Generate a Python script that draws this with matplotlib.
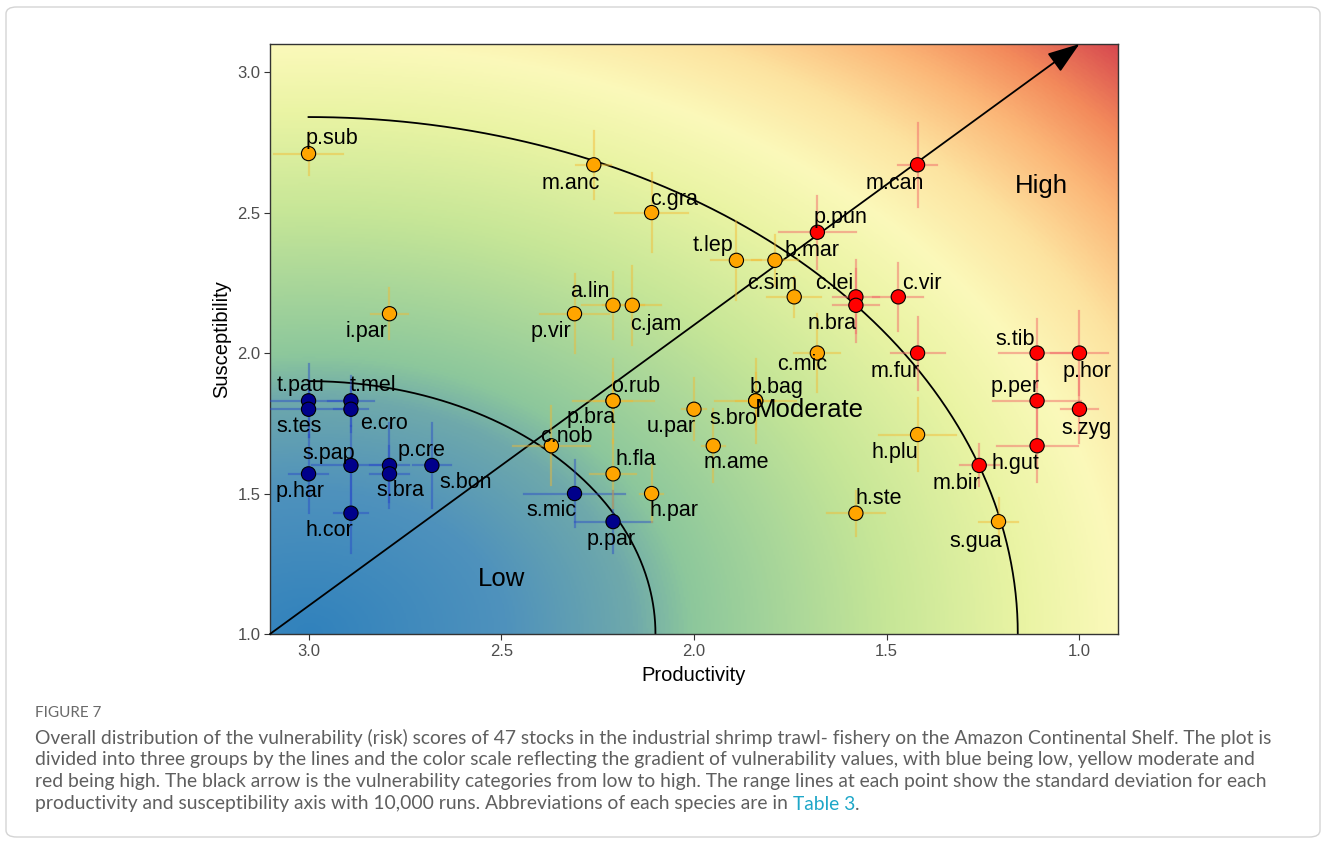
import numpy as np
import matplotlib
matplotlib.use("Agg")
import matplotlib.pyplot as plt
from matplotlib.colors import LinearSegmentedColormap
from matplotlib.patches import FancyBboxPatch

# stock scores (productivity, susceptibility) and their standard deviations
species = ["t.pau", "s.tes", "t.mel", "e.cro", "s.pap", "p.har", "p.cre", "s.bra",
           "s.bon", "h.cor", "s.mic", "p.par",
           "p.sub", "m.anc", "c.gra", "t.lep", "b.mar", "c.sim", "i.par", "p.vir",
           "a.lin", "c.jam", "c.mic", "o.rub", "p.bra", "u.par", "b.bag", "s.bro",
           "c.nob", "m.ame", "h.fla", "h.par", "h.plu", "h.ste", "s.gua",
           "m.can", "p.pun", "c.lei", "n.bra", "c.vir", "m.fur", "s.tib", "p.hor",
           "p.per", "s.zyg", "h.gut", "m.bir"]
productivity = [3.00, 3.00, 2.89, 2.89, 2.89, 3.00, 2.79, 2.79, 2.68, 2.89, 2.31, 2.21,
                3.00, 2.26, 2.11, 1.89, 1.79, 1.74, 2.79, 2.31, 2.21, 2.16, 1.68, 2.21,
                2.21, 2.00, 1.84, 1.84, 2.37, 1.95, 2.21, 2.11, 1.42, 1.58, 1.21,
                1.42, 1.68, 1.58, 1.58, 1.47, 1.42, 1.11, 1.00, 1.11, 1.00, 1.11, 1.26]
susceptibility = [1.83, 1.80, 1.83, 1.80, 1.60, 1.57, 1.60, 1.57, 1.60, 1.43, 1.50, 1.40,
                  2.71, 2.67, 2.50, 2.33, 2.33, 2.20, 2.14, 2.14, 2.17, 2.17, 2.00, 1.83,
                  1.83, 1.80, 1.83, 1.83, 1.67, 1.67, 1.57, 1.50, 1.71, 1.43, 1.40,
                  2.67, 2.43, 2.20, 2.17, 2.20, 2.00, 2.00, 2.00, 1.83, 1.80, 1.67, 1.60]
sd_prod = [0.10, 0.10, 0.06, 0.045, 0.10, 0.05, 0.05, 0.05, 0.05, 0.045, 0.13, 0.10,
           0.09, 0.045, 0.095, 0.065, 0.06, 0.07, 0.047, 0.09, 0.08, 0.075, 0.06, 0.105,
           0.05, 0.03, 0.105, 0.05, 0.10, 0.03, 0.06, 0.03, 0.10, 0.075, 0.05,
           0.05, 0.10, 0.06, 0.06, 0.065, 0.07, 0.10, 0.075, 0.115, 0.047, 0.105, 0.05]
sd_susc = [0.13, 0.10, 0.09, 0.08, 0.14, 0.14, 0.15, 0.10, 0.15, 0.14, 0.12, 0.11,
           0.075, 0.12, 0.14, 0.14, 0.09, 0.07, 0.09, 0.14, 0.12, 0.14, 0.14, 0.15,
           0.10, 0.11, 0.15, 0.10, 0.14, 0.13, 0.12, 0.10, 0.13, 0.08, 0.085,
           0.15, 0.13, 0.13, 0.13, 0.12, 0.13, 0.12, 0.15, 0.13, 0.12, 0.13, 0.075]
category = ["Low"] * 12 + ["Moderate"] * 23 + ["High"] * 12

ticks_x = [3.0, 2.5, 2.0, 1.5, 1.0]
ticks_y = [1.0, 1.5, 2.0, 2.5, 3.0]
r_low = 0.9    # boundary low / moderate (distance from (3, 1))
r_high = 1.84  # boundary moderate / high

# label offsets in pixels (dx right, dy down) like ggrepel placed them
label_offset = {
    "t.pau": (-8, -15), "s.tes": (-9, 17), "t.mel": (22, -15), "e.cro": (33, 14),
    "s.pap": (-22, -12), "p.har": (-8, 18), "p.cre": (32, -15), "s.bra": (11, 17),
    "s.bon": (34, 17), "h.cor": (-22, 17), "s.mic": (-23, 17), "p.par": (-2, 18),
    "p.sub": (23, -15), "m.anc": (-23, 19), "c.gra": (22, -13), "t.lep": (-23, -15),
    "b.mar": (37, -10), "c.sim": (-22, -13), "i.par": (-23, 18), "p.vir": (-24, 18),
    "a.lin": (-23, -14), "c.jam": (23, 19), "c.mic": (-15, 11), "o.rub": (23, -14),
    "p.bra": (-22, 17), "u.par": (-23, 17), "b.bag": (21, -13), "s.bro": (-22, 18),
    "c.nob": (15, -9), "m.ame": (23, 17), "h.fla": (23, -14), "h.par": (22, 17),
    "h.plu": (-23, 18), "h.ste": (23, -15), "s.gua": (-23, 20),
    "m.can": (-23, 19), "p.pun": (23, -15), "c.lei": (-22, -13), "n.bra": (-24, 18),
    "c.vir": (24, -13), "m.fur": (-22, 18), "s.tib": (-22, -14), "p.hor": (8, 18),
    "p.per": (-22, -14), "s.zyg": (7, 19), "h.gut": (-22, 18), "m.bir": (-23, 18),
}

point_col = {"Low": "#00008B", "Moderate": "#FFA500", "High": "#FF0000"}
bar_col = {"Low": ("#2848c8", 0.45), "Moderate": ("#F5B82E", 0.45), "High": ("#F26B6B", 0.5)}

sans = ["Liberation Sans", "DejaVu Sans"]
plt.rcParams["font.family"] = sans

fig = plt.figure(figsize=(13.28, 8.43), dpi=100)
W, H = 1328, 843

# outer frame of the figure panel
frame = FancyBboxPatch((6 / W, 6 / H), 1314 / W, 830 / H,
                       boxstyle="round,pad=0,rounding_size=0.008",
                       transform=fig.transFigure, fill=False,
                       edgecolor="#d4d4d4", lw=1.0)
fig.patches.append(frame)

ax = fig.add_axes([270 / W, 1 - 634 / H, 848 / W, 590 / H])
xlim = (3.1, 0.9)
ylim = (1.0, 3.1)

# background: vulnerability = distance from (3, 1)
gx = np.linspace(xlim[0], xlim[1], 500)
gy = np.linspace(ylim[0], ylim[1], 400)
PX, SY = np.meshgrid(gx, gy)
V = np.sqrt((PX - 3.0) ** 2 + (SY - 1.0) ** 2)
nodes = [(0.0, "#3182bd"), (0.17, "#4f92bc"), (0.28, "#6fa9ab"), (0.33, "#8cc79c"),
         (0.50, "#c6e697"), (0.62, "#eaf4a4"), (0.70, "#fbf9ba"), (0.78, "#fde3a0"),
         (0.86, "#fbb677"), (0.92, "#f38a5b"), (1.0, "#d3404e")]
cmap = LinearSegmentedColormap.from_list("vuln", nodes)
ax.imshow(V, extent=(xlim[0], xlim[1], ylim[0], ylim[1]), origin="lower",
          aspect="auto", cmap=cmap, vmin=0, vmax=3.0, interpolation="bilinear", zorder=0)

# group boundaries
th = np.linspace(0, np.pi / 2, 400)
for r in (r_low, r_high):
    ax.plot(3 - r * np.cos(th), 1 + r * np.sin(th), color="black", lw=1.3, zorder=2)

# direction of increasing vulnerability
ax.annotate("", xy=(1.0, 3.1), xytext=(3.1, 1.0), annotation_clip=False,
            arrowprops=dict(arrowstyle="-|>,head_length=1.0,head_width=0.35",
                            color="black", lw=1.3, mutation_scale=20, shrinkA=0, shrinkB=0),
            zorder=3)

# standard deviation bars
for p, s, dp, ds, c in zip(productivity, susceptibility, sd_prod, sd_susc, category):
    col, a = bar_col[c]
    ax.plot([p - dp, p + dp], [s, s], color=col, alpha=a, lw=1.6, zorder=3)
    ax.plot([p, p], [s - ds, s + ds], color=col, alpha=a, lw=1.6, zorder=3)

ax.scatter(productivity, susceptibility, s=105,
           c=[point_col[c] for c in category], edgecolors="black", linewidths=0.8, zorder=4)

for name, p, s in zip(species, productivity, susceptibility):
    dx, dy = label_offset[name]
    ax.annotate(name, (p, s), xytext=(dx, -dy), textcoords="offset pixels",
                ha="center", va="center", fontsize=15.5, color="black", zorder=5)

ax.text(2.5, 1.195, "Low", fontsize=18.5, ha="center", va="center", zorder=5)
ax.text(1.70, 1.796, "Moderate", fontsize=18.5, ha="center", va="center", zorder=5)
ax.text(1.10, 2.595, "High", fontsize=18.5, ha="center", va="center", zorder=5)

ax.set_xlim(*xlim)
ax.set_ylim(*ylim)
ax.set_xticks(ticks_x)
ax.set_xticklabels([f"{t:.1f}" for t in ticks_x])
ax.set_yticks(ticks_y)
ax.set_yticklabels([f"{t:.1f}" for t in ticks_y])
ax.tick_params(length=4, width=0.8, color="#333333", labelsize=12, labelcolor="#4d4d4d", pad=3)
for sp in ax.spines.values():
    sp.set_color("#333333")
    sp.set_linewidth(1.0)
ax.set_xlabel("Productivity", fontsize=14.5, labelpad=5)
ax.set_ylabel("Susceptibility", fontsize=14.5, labelpad=4)

# caption
cap_font = ["Lato", "DejaVu Sans"]
cap_col = "#5f5f5f"
cap_size = 13.9
fig.text(35 / W, 1 - 713 / H, "FIGURE 7", fontsize=11, color="#6a6a6a",
         family=cap_font, va="center", ha="left")
lines = [
    "Overall distribution of the vulnerability (risk) scores of 47 stocks in the industrial shrimp trawl- fishery on the Amazon Continental Shelf. The plot is",
    "divided into three groups by the lines and the color scale reflecting the gradient of vulnerability values, with blue being low, yellow moderate and",
    "red being high. The black arrow is the vulnerability categories from low to high. The range lines at each point show the standard deviation for each",
    "productivity and susceptibility axis with 10,000 runs. Abbreviations of each species are in ",
]
ys = [738, 760, 782, 804]
last = None
for txt, yy in zip(lines, ys):
    last = fig.text(35 / W, 1 - yy / H, txt, fontsize=cap_size, color=cap_col,
                    family=cap_font, va="center", ha="left")

fig.canvas.draw()
bb = last.get_window_extent()
t3 = fig.text(bb.x1 / W, 1 - 804 / H, "Table 3", fontsize=cap_size, color="#1ea7c8",
              family=cap_font, va="center", ha="left")
fig.canvas.draw()
bb3 = t3.get_window_extent()
fig.text(bb3.x1 / W, 1 - 804 / H, ".", fontsize=cap_size, color=cap_col,
         family=cap_font, va="center", ha="left")

fig.savefig("out.png", dpi=100)
